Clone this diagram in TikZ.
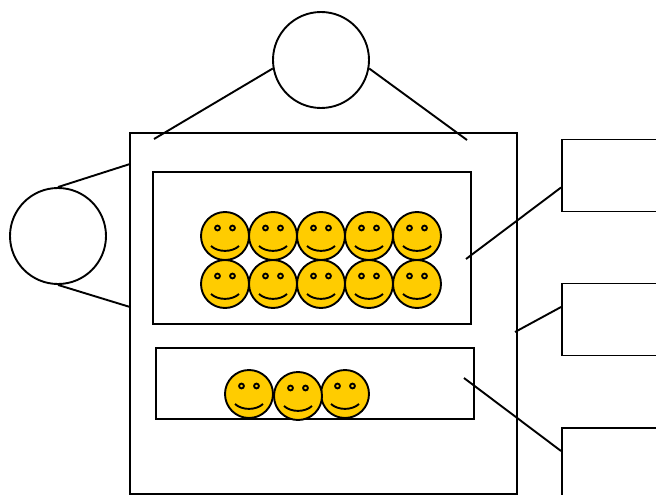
\documentclass[tikz,border=0pt]{standalone}
\usepackage{tikz}
\definecolor{faceyellow}{RGB}{255,204,0}
\tikzstyle{box}=[draw,rectangle,inner sep=0pt]
\tikzstyle{actor}=[draw,circle,fill=white,minimum size=96pt,inner sep=0pt]
\tikzstyle{face}=[draw,circle,fill=faceyellow,minimum size=48pt,inner sep=0pt,
  path picture={
    \draw (path picture bounding box.center) ++(-7.5pt,8pt) circle (2.4pt);
    \draw (path picture bounding box.center) ++(7.5pt,8pt) circle (2.4pt);
    \draw (path picture bounding box.center) ++(-14pt,-10pt) .. controls ++(7pt,-6.5pt) and ++(-7pt,-6.5pt) .. ++(28pt,0pt);
  }]

\begin{document}
\begin{tikzpicture}[x=1pt,y=-1pt,line width=1.9pt]
    \useasboundingbox (0,0) rectangle (656,495);
    \clip (0,0) rectangle (656,495);
    \node[box,minimum width=387pt,minimum height=361pt] (outer) at (323.5,313.5) {};
    \node[box,minimum width=318pt,minimum height=152pt] (upper) at (312,248) {};
    \node[box,minimum width=318pt,minimum height=71pt] (lower) at (315,383.5) {};
    \node[actor] (atop) at (321,60) {};
    \node[actor] (aleft) at (58,236) {};
    \node[box,minimum width=120pt,minimum height=72pt] (r1) at (622,175.5) {};
    \node[box,minimum width=120pt,minimum height=72pt] (r2) at (622,319.5) {};
    \node[box,minimum width=120pt,minimum height=72pt] (r3) at (622,464) {};

    % free ends of the connectors
    \coordinate (t1) at (154,139);
    \coordinate (t2) at (467,140);
    \coordinate (l1) at (130,164);
    \coordinate (l2) at (130,307);
    \coordinate (e1) at (466,259);
    \coordinate (e2) at (515,332);
    \coordinate (e3) at (464,378);

    \foreach \x/\c in {225/a,273/b,321/c,369/d,417/e} {
        \node[face] (f1\c) at (\x,236) {};
        \node[face] (f2\c) at (\x,284) {};
    }
    \foreach \x/\y/\c in {249/394/a,345/394/c,298/396/b}
        \node[face] (f3\c) at (\x,\y) {};

    \draw (atop.190) -- (t1);
    \draw (atop.-10) -- (t2);
    \draw (aleft.north) -- (l1);
    \draw (aleft.south) -- (l2);
    \draw ([yshift=-12pt]r1.west) -- (e1);
    \draw ([yshift=12.5pt]r2.west) -- (e2);
    \draw ([yshift=13pt]r3.west) -- (e3);
\end{tikzpicture}
\end{document}
